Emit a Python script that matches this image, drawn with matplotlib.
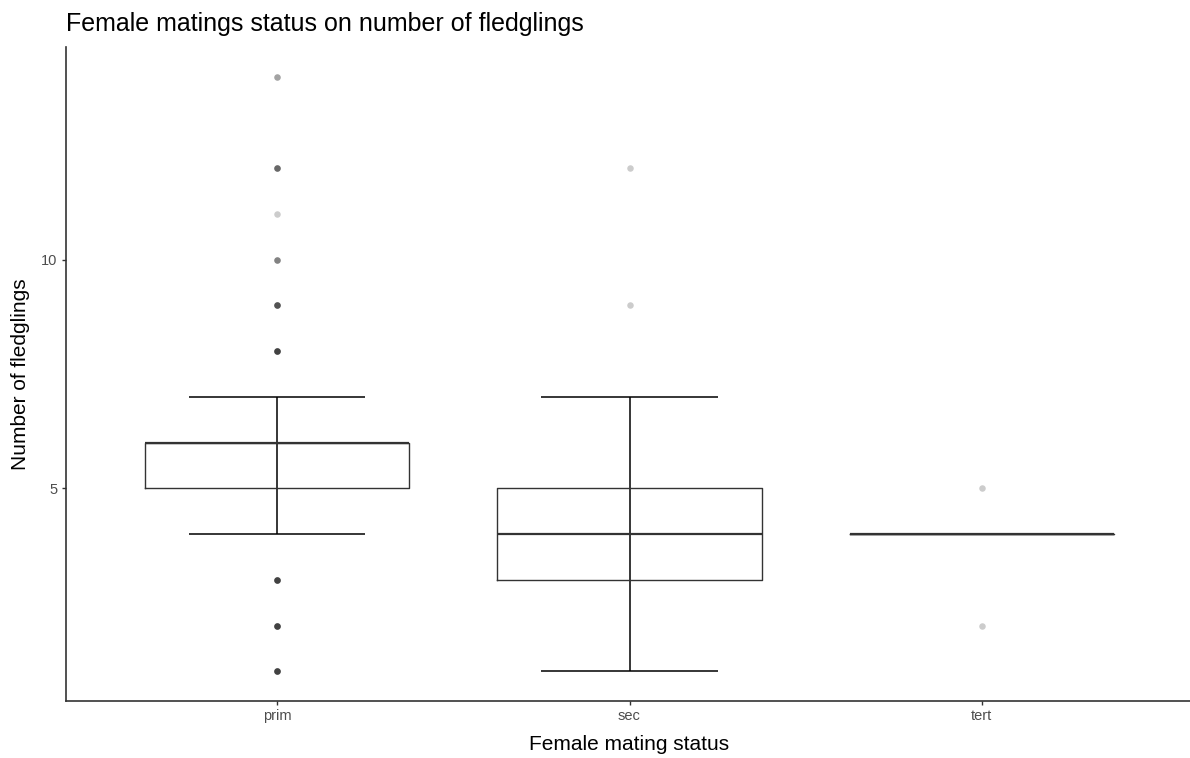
import numpy as np
import matplotlib.pyplot as plt

plt.rcParams['font.family'] = ['Liberation Sans', 'DejaVu Sans']

# summary per mating status
groups = ['prim', 'sec', 'tert']
q1 = [5, 3, 4]
median = [6, 4, 4]
q3 = [6, 5, 4]
whisker_lo = [4, 1, 4]
whisker_hi = [7, 7, 4]

# outlying fledgling counts and how many nests share each value
outlier_values = [[14, 12, 11, 10, 9, 8, 3, 2, 1], [12, 9], [5, 2]]
outlier_counts = [[2, 4, 1, 3, 5, 6, 6, 6, 6], [1, 1], [1, 1]]

W, H = 1190, 758
fig = plt.figure(figsize=(W / 100, H / 100), dpi=100)
ax = fig.add_axes([66 / W, 57 / H, 1127 / W, 654 / H])

pos = np.arange(1, len(groups) + 1)

# error bars (whiskers with wide caps)
ax.vlines(pos, whisker_lo, whisker_hi, color='black', lw=1.1, zorder=2)
ax.hlines(whisker_lo, pos - 0.25, pos + 0.25, color='black', lw=1.1, zorder=2)
ax.hlines(whisker_hi, pos - 0.25, pos + 0.25, color='black', lw=1.1, zorder=2)

stats = [dict(med=m, q1=a, q3=b, whislo=a, whishi=b, fliers=[], label=g)
         for g, m, a, b in zip(groups, median, q1, q3)]
ax.bxp(stats, positions=pos, widths=0.75, showcaps=False, showfliers=False,
       boxprops=dict(color='#333333', lw=1.0),
       whiskerprops=dict(lw=0),
       medianprops=dict(color='#333333', lw=1.6),
       manage_ticks=False)

# outliers, drawn once per nest so overlapping points get darker
for p, vals, cnts in zip(pos, outlier_values, outlier_counts):
    y = np.repeat(vals, cnts)
    ax.scatter(np.full(len(y), p), y, s=22, color='black', alpha=0.2,
               linewidths=0, zorder=3)

ax.set_xlim(0.4, 3.6)
ax.set_ylim(0.35, 14.65)
ax.set_xticks(pos)
ax.set_xticklabels(groups)
ax.set_yticks([5, 10])

for side in ['top', 'right']:
    ax.spines[side].set_visible(False)
for side in ['left', 'bottom']:
    ax.spines[side].set_color('#333333')
    ax.spines[side].set_linewidth(1.2)
ax.tick_params(axis='both', length=3, width=1, color='#333333',
               labelcolor='#4d4d4d', labelsize=10.5, pad=3)

ax.set_xlabel('Female mating status', fontsize=15, color='black')
ax.xaxis.set_label_coords(0.5, -0.066)
ax.xaxis.label.set_va('center')
ax.set_ylabel('Number of fledglings', fontsize=15, color='black')
ax.yaxis.set_label_coords(-0.0408, 0.5)
ax.yaxis.label.set_va('center')

fig.text(66 / W, 1 - 24 / H, 'Female matings status on number of fledglings',
         fontsize=18, va='center', ha='left')

fig.savefig('out.png', dpi=100)
